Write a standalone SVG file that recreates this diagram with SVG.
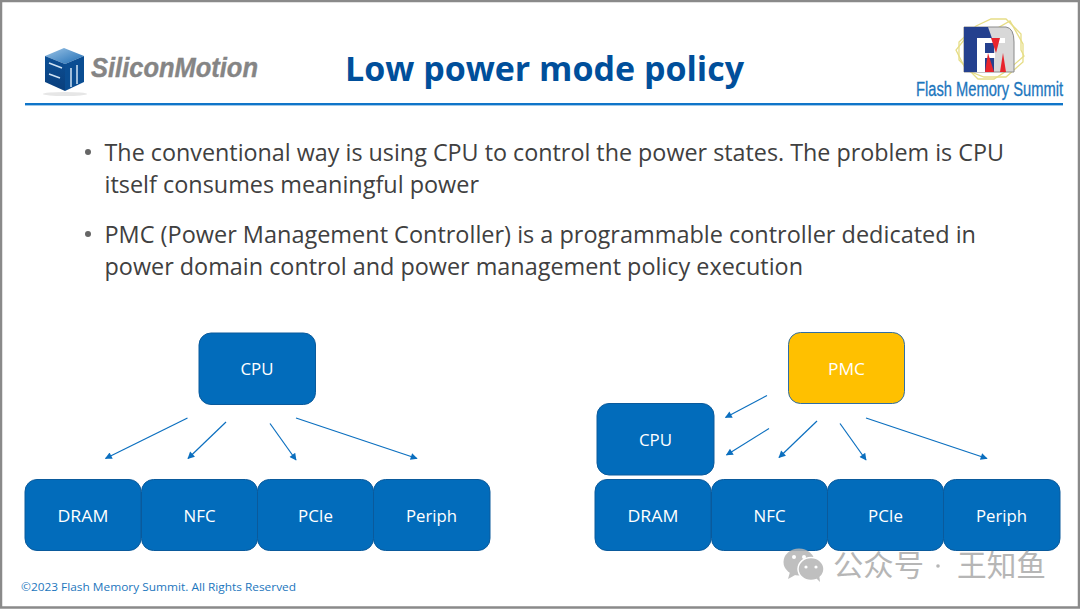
<svg xmlns="http://www.w3.org/2000/svg" width="1080" height="609" viewBox="0 0 1080 609">
<style>
.box{fill:#026cbb;stroke:#0a5a9c;stroke-width:1}
.lbl{font-family:"Open Sans","Noto Sans","Liberation Sans",sans-serif;font-size:17px;fill:#fff;text-anchor:middle}
.body{font-family:"Open Sans","Noto Sans","Liberation Sans",sans-serif;font-size:23px;fill:#404040}
.arr{stroke:#0b6fbf;stroke-width:1.2;fill:none;marker-end:url(#ah)}
.oct{fill:none;stroke:#e6dd86;stroke-width:1.3}
</style>
<defs>
<marker id="ah" viewBox="0 0 10 10" refX="9" refY="5" markerWidth="9" markerHeight="7" markerUnits="userSpaceOnUse" orient="auto"><path d="M0 0L10 5L0 10Z" fill="#0b6fbf"/></marker>
<linearGradient id="cubeTop" x1="0" y1="0" x2="1" y2="1"><stop offset="0" stop-color="#9cc4e6"/><stop offset="1" stop-color="#1e6db5"/></linearGradient>
<linearGradient id="cubeL" x1="0" y1="0" x2="0" y2="1"><stop offset="0" stop-color="#0b4f96"/><stop offset="1" stop-color="#0a3f7c"/></linearGradient>
</defs>
<rect x="0" y="0" width="1080" height="609" fill="#fff"/>
<rect x="1" y="1" width="1078" height="606.5" fill="none" stroke="#8a8a8a" stroke-width="2.5"/>
<g id="logo-siliconmotion">
<ellipse cx="65" cy="94" rx="22" ry="2" fill="#e6e6e6"/>
<path d="M45 56L64 48L84 56L65 64Z" fill="url(#cubeTop)"/>
<path d="M45 56L65 64V91L45 82Z" fill="url(#cubeL)"/>
<path d="M65 64L84 56V82L65 91Z" fill="#0a4d92"/>
<path d="M49 63L62 68M49 74L60 78M71 87V68M77 84V65" stroke="#cfe2f3" stroke-width="1.5" fill="none"/>
<text x="91" y="77" font-family="Liberation Sans,sans-serif" font-size="28" font-weight="bold" font-style="italic" fill="#858585" stroke="#858585" stroke-width="0.4" textLength="167" lengthAdjust="spacingAndGlyphs">SiliconMotion</text>
</g>
<g id="logo-fms">
<path d="M976 26L991 19H1006L1021 34V50L1024 56L1008 70L994 79H978L959 60V42Z" class="oct"/>
<path d="M972 30H994L1010 21L1023 44V62L1006 77H984L966 70L956 50Z" class="oct"/>
<path d="M964 27H1006Q1014 28 1014 42V72H964Z" fill="#d8d8d8" stroke="#8a8a8a" stroke-width="1"/>
<path d="M964 27H988L994 44V72H964Z" fill="#24408e"/>
<rect x="977" y="38" width="28" height="5" fill="#fff"/>
<rect x="977" y="53" width="18" height="5" fill="#fff"/>
<rect x="977" y="38" width="8" height="34" fill="#fff"/>
<path d="M991 38H1000L996 53Z" fill="#e8242c"/>
<path d="M985 72L988 53L994 72Z" fill="#e8242c"/>
<path d="M1000 72L1003 53L1006 72Z" fill="#e8242c"/>
<text x="916" y="96" font-family="Liberation Sans Narrow,Liberation Sans,sans-serif" font-size="20" fill="#1c76bd" stroke="#1c76bd" stroke-width="0.3" textLength="147" lengthAdjust="spacingAndGlyphs">Flash Memory Summit</text>
</g>
<rect x="25" y="103" width="1038" height="2.4" fill="#0f75c9"/>
<text x="544.500" y="81" text-anchor="middle" font-family="Open Sans,Noto Sans,sans-serif" font-size="34.500" font-weight="700" fill="#004f9b" textLength="399" lengthAdjust="spacingAndGlyphs">Low power mode policy</text>
<g class="body">
<circle cx="88" cy="152" r="3" fill="#666"/>
<text x="104.500" y="161" textLength="899.500" lengthAdjust="spacingAndGlyphs">The conventional way is using CPU to control the power states. The problem is CPU</text>
<text x="104.500" y="193" textLength="374.500" lengthAdjust="spacingAndGlyphs">itself consumes meaningful power</text>
<circle cx="88" cy="234" r="3" fill="#666"/>
<text x="104.500" y="243" textLength="871.500" lengthAdjust="spacingAndGlyphs">PMC (Power Management Controller) is a programmable controller dedicated in</text>
<text x="104.500" y="275" textLength="698.500" lengthAdjust="spacingAndGlyphs">power domain control and power management policy execution</text>
</g>
<g id="connectors">
<line class="arr" x1="187.500" y1="418" x2="105.500" y2="458.500"/>
<line class="arr" x1="226" y1="422" x2="188" y2="458.500"/>
<line class="arr" x1="270" y1="423.500" x2="296" y2="460"/>
<line class="arr" x1="296" y1="418" x2="417" y2="458.500"/>
<line class="arr" x1="767" y1="395.500" x2="725.500" y2="417.500"/>
<line class="arr" x1="769" y1="428.500" x2="726.500" y2="455"/>
<line class="arr" x1="817" y1="421" x2="779" y2="457.500"/>
<line class="arr" x1="840" y1="423.500" x2="866" y2="460"/>
<line class="arr" x1="866" y1="418" x2="987" y2="458.500"/>
</g>
<g id="l-cpu"><rect class="box" x="199" y="333" width="116.500" height="71.500" rx="12"/><text class="lbl" x="257" y="375" textLength="33" lengthAdjust="spacingAndGlyphs">CPU</text></g>
<g id="l-dram"><rect class="box" x="25" y="479.500" width="116" height="71" rx="12"/><text class="lbl" x="83" y="522" textLength="51" lengthAdjust="spacingAndGlyphs">DRAM</text></g>
<g id="l-nfc"><rect class="box" x="141.500" y="479.500" width="116" height="71" rx="12"/><text class="lbl" x="199.500" y="522" textLength="32" lengthAdjust="spacingAndGlyphs">NFC</text></g>
<g id="l-pcie"><rect class="box" x="257.500" y="479.500" width="116" height="71" rx="12"/><text class="lbl" x="315.500" y="522" textLength="35" lengthAdjust="spacingAndGlyphs">PCIe</text></g>
<g id="l-periph"><rect class="box" x="373.500" y="479.500" width="116.500" height="71" rx="12"/><text class="lbl" x="431.500" y="522" textLength="51" lengthAdjust="spacingAndGlyphs">Periph</text></g>
<g id="r-pmc"><rect x="788.500" y="332.500" width="116" height="71" rx="12" fill="#ffc000" stroke="#2f6ea5" stroke-width="1"/><text class="lbl" x="846.500" y="374.500" textLength="37" lengthAdjust="spacingAndGlyphs">PMC</text></g>
<g id="r-cpu"><rect class="box" x="597" y="403.500" width="117" height="71.500" rx="12"/><text class="lbl" x="655.500" y="446" textLength="33" lengthAdjust="spacingAndGlyphs">CPU</text></g>
<g id="r-dram"><rect class="box" x="595" y="479.500" width="116" height="71" rx="12"/><text class="lbl" x="653" y="522" textLength="51" lengthAdjust="spacingAndGlyphs">DRAM</text></g>
<g id="r-nfc"><rect class="box" x="711.500" y="479.500" width="116" height="71" rx="12"/><text class="lbl" x="769.500" y="522" textLength="32" lengthAdjust="spacingAndGlyphs">NFC</text></g>
<g id="r-pcie"><rect class="box" x="827.500" y="479.500" width="116" height="71" rx="12"/><text class="lbl" x="885.500" y="522" textLength="35" lengthAdjust="spacingAndGlyphs">PCIe</text></g>
<g id="r-periph"><rect class="box" x="943.500" y="479.500" width="116.500" height="71" rx="12"/><text class="lbl" x="1001.500" y="522" textLength="51" lengthAdjust="spacingAndGlyphs">Periph</text></g>
<text x="21" y="591" font-family="Open Sans,Noto Sans,sans-serif" font-size="11.500" fill="#1c76bd" textLength="275" lengthAdjust="spacingAndGlyphs">©2023 Flash Memory Summit. All Rights Reserved</text>
<g id="watermark" opacity="0.85">
<ellipse cx="799" cy="562" rx="15.500" ry="13.500" fill="#b4b4b4"/>
<path d="M790 572L788 579L797 574Z" fill="#b4b4b4"/>
<ellipse cx="811" cy="569" rx="13" ry="11.500" fill="#b4b4b4" stroke="#fff" stroke-width="1.500"/>
<path d="M816 578L820 582L819 574Z" fill="#b4b4b4"/>
<circle cx="794" cy="557" r="2" fill="#fff"/><circle cx="804" cy="557" r="2" fill="#fff"/>
<circle cx="806" cy="567" r="1.600" fill="#fff"/><circle cx="816" cy="567" r="1.600" fill="#fff"/>
<g font-family="Noto Sans CJK SC,sans-serif" font-size="29.500" fill="#aaa">
<text x="833" y="576" textLength="91" lengthAdjust="spacingAndGlyphs">公众号</text>
<circle cx="938" cy="566" r="1.800" fill="#aaa"/>
<text x="957" y="576" textLength="89" lengthAdjust="spacingAndGlyphs">王知鱼</text>
</g>
</g>
</svg>
